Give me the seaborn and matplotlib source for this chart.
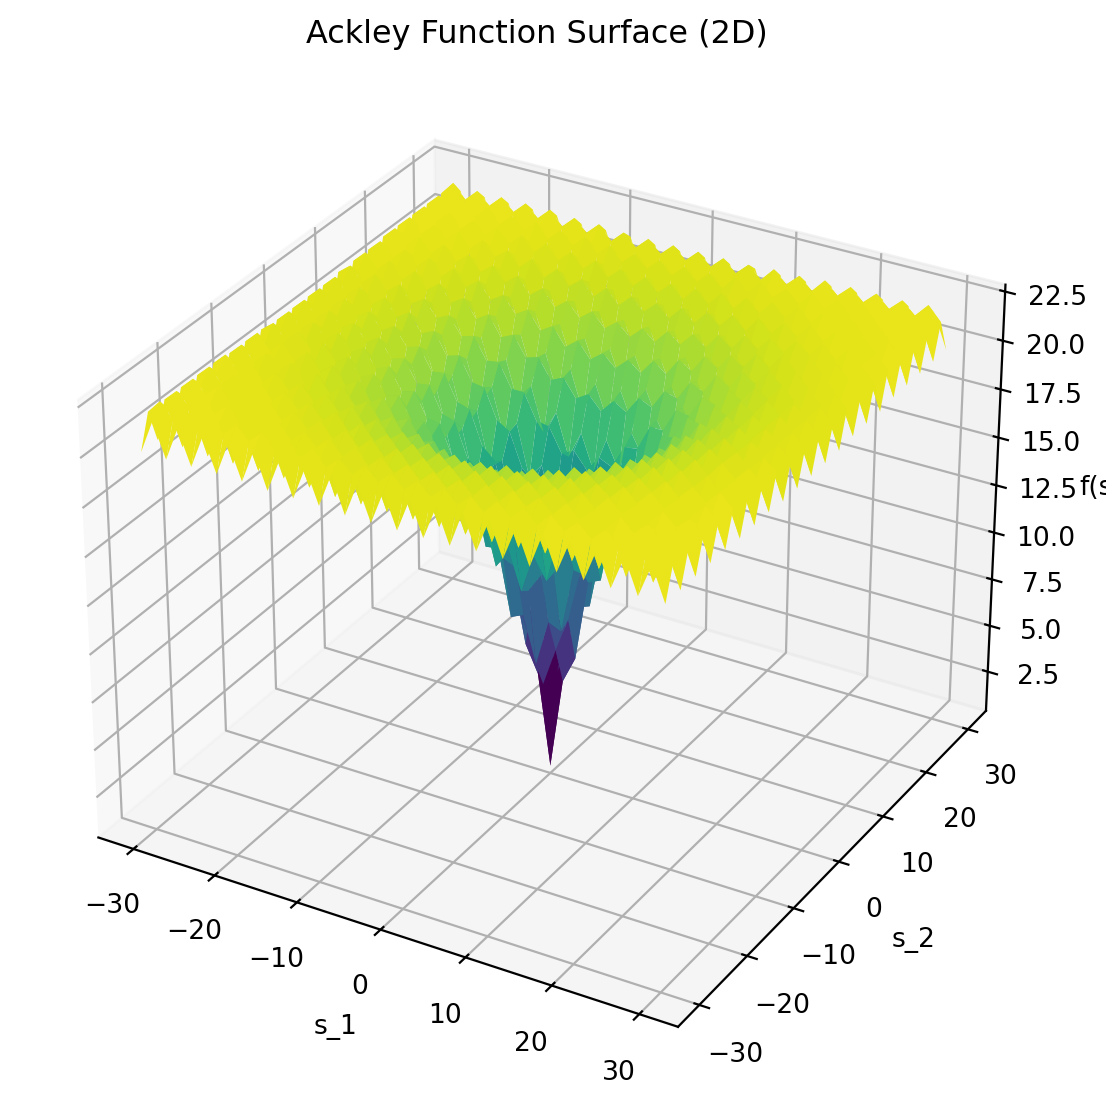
"""
Ackley surface, heights estimated by eye on a coarse grid (one quarter, mirrored)
"""
import numpy as np
import matplotlib
matplotlib.use('Agg')
import matplotlib.pyplot as plt
import seaborn as sns

# grid positions for s >= 0, the surface is symmetric about both axes
s_values = [0, 1.5, 3, 4.5, 6, 7.5, 9, 10.5, 12, 13.5, 15, 16.5, 18, 19.5, 21, 22.5,
            24, 25.5, 27, 28.5, 30]

# estimated heights, rows follow s_2, columns follow s_1
heights = [
    [0.75, 5.5, 6.9, 11.1, 11.4, 14.8, 14.4, 17.2, 16.3, 18.8, 17.6, 19.8, 18.4, 20.5, 19.0, 20.9, 19.3, 21.2, 19.6, 21.4, 19.7],
    [5.5, 7.5, 9.3, 12.1, 13.4, 15.6, 16.2, 17.9, 18.1, 19.4, 19.3, 20.4, 20.2, 21.1, 20.7, 21.5, 21.1, 21.8, 21.3, 22.0, 21.4],
    [6.9, 9.3, 9.0, 12.4, 12.3, 15.3, 14.8, 17.5, 16.5, 18.9, 17.7, 19.9, 18.5, 20.5, 19.0, 20.9, 19.4, 21.2, 19.6, 21.4, 19.7],
    [11.1, 12.1, 12.4, 14.2, 14.8, 16.5, 16.9, 18.4, 18.5, 19.7, 19.5, 20.6, 20.3, 21.2, 20.8, 21.6, 21.1, 21.8, 21.3, 22.0, 21.4],
    [11.4, 13.4, 12.3, 14.8, 14.0, 16.6, 15.7, 18.1, 17.0, 19.2, 18.0, 20.1, 18.6, 20.6, 19.1, 21.0, 19.4, 21.2, 19.6, 21.4, 19.7],
    [14.8, 15.6, 15.3, 16.5, 16.6, 17.9, 17.9, 19.1, 19.0, 20.1, 19.9, 20.8, 20.5, 21.3, 20.9, 21.7, 21.2, 21.9, 21.3, 22.0, 21.5],
    [14.4, 16.2, 14.8, 16.9, 15.7, 17.9, 16.7, 18.9, 17.6, 19.7, 18.3, 20.3, 18.8, 20.8, 19.2, 21.1, 19.5, 21.3, 19.6, 21.4, 19.8],
    [17.2, 17.9, 17.5, 18.4, 18.1, 19.1, 18.9, 19.9, 19.6, 20.6, 20.2, 21.1, 20.7, 21.5, 21.0, 21.8, 21.2, 22.0, 21.4, 22.1, 21.5],
    [16.3, 18.1, 16.5, 18.5, 17.0, 19.0, 17.6, 19.6, 18.2, 20.2, 18.7, 20.6, 19.1, 20.9, 19.4, 21.2, 19.6, 21.4, 19.7, 21.5, 19.8],
    [18.8, 19.4, 18.9, 19.7, 19.2, 20.1, 19.7, 20.6, 20.2, 21.0, 20.6, 21.4, 20.9, 21.7, 21.1, 21.9, 21.3, 22.0, 21.4, 22.1, 21.5],
    [17.6, 19.3, 17.7, 19.5, 18.0, 19.9, 18.3, 20.2, 18.7, 20.6, 19.0, 20.9, 19.3, 21.1, 19.5, 21.3, 19.6, 21.4, 19.8, 21.5, 19.8],
    [19.8, 20.4, 19.9, 20.6, 20.1, 20.8, 20.3, 21.1, 20.6, 21.4, 20.9, 21.6, 21.1, 21.8, 21.3, 22.0, 21.4, 22.1, 21.5, 22.2, 21.6],
    [18.4, 20.2, 18.5, 20.3, 18.6, 20.5, 18.8, 20.7, 19.1, 20.9, 19.3, 21.1, 19.5, 21.3, 19.6, 21.4, 19.7, 21.5, 19.8, 21.6, 19.9],
    [20.5, 21.1, 20.5, 21.2, 20.6, 21.3, 20.8, 21.5, 20.9, 21.7, 21.1, 21.8, 21.3, 22.0, 21.4, 22.1, 21.5, 22.1, 21.5, 22.2, 21.6],
    [19.0, 20.7, 19.0, 20.8, 19.1, 20.9, 19.2, 21.0, 19.4, 21.1, 19.5, 21.3, 19.6, 21.4, 19.7, 21.5, 19.8, 21.5, 19.8, 21.6, 19.9],
    [20.9, 21.5, 20.9, 21.6, 21.0, 21.7, 21.1, 21.8, 21.2, 21.9, 21.3, 22.0, 21.4, 22.1, 21.5, 22.1, 21.5, 22.2, 21.6, 22.2, 21.6],
    [19.3, 21.1, 19.4, 21.1, 19.4, 21.2, 19.5, 21.2, 19.6, 21.3, 19.6, 21.4, 19.7, 21.5, 19.8, 21.5, 19.8, 21.6, 19.8, 21.6, 19.9],
    [21.2, 21.8, 21.2, 21.8, 21.2, 21.9, 21.3, 22.0, 21.4, 22.0, 21.4, 22.1, 21.5, 22.1, 21.5, 22.2, 21.6, 22.2, 21.6, 22.2, 21.6],
    [19.6, 21.3, 19.6, 21.3, 19.6, 21.3, 19.6, 21.4, 19.7, 21.4, 19.8, 21.5, 19.8, 21.5, 19.8, 21.6, 19.8, 21.6, 19.9, 21.6, 19.9],
    [21.4, 22.0, 21.4, 22.0, 21.4, 22.0, 21.4, 22.1, 21.5, 22.1, 21.5, 22.2, 21.6, 22.2, 21.6, 22.2, 21.6, 22.2, 21.6, 22.3, 21.6],
    [19.7, 21.4, 19.7, 21.4, 19.7, 21.5, 19.8, 21.5, 19.8, 21.5, 19.8, 21.6, 19.9, 21.6, 19.9, 21.6, 19.9, 21.6, 19.9, 21.6, 19.9],
]

title = 'Ackley Function Surface (2D)'
xlabel = 's_1'
ylabel = 's_2'
zlabel = 'f(s)'

plt.rcParams['font.size'] = 9.55

# mirror the quarter into the full square
s_half = np.array(s_values)
s_full = np.r_[-s_half[:0:-1], s_half]
quarter = np.array(heights)
right = np.c_[quarter[:, :0:-1], quarter]
z = np.r_[right[:0:-1], right]
X, Y = np.meshgrid(s_full, s_full)

fig = plt.figure(figsize=(5.53, 5.565), dpi=200)
ax = fig.add_axes([0.0185, 0.0175, 0.933, 0.93], projection='3d')
ax.plot_surface(X, Y, z, cmap=sns.color_palette('viridis', as_cmap=True), vmax=21.9,
                rstride=1, cstride=1, linewidth=0, antialiased=True)
ax.set_zlim(0.35, 22.85)
ax.set_title(title)
ax.set_xlabel(xlabel)
ax.set_ylabel(ylabel)
ax.set_zlabel(zlabel, labelpad=2.5)

plt.savefig('out.png', dpi=200)
